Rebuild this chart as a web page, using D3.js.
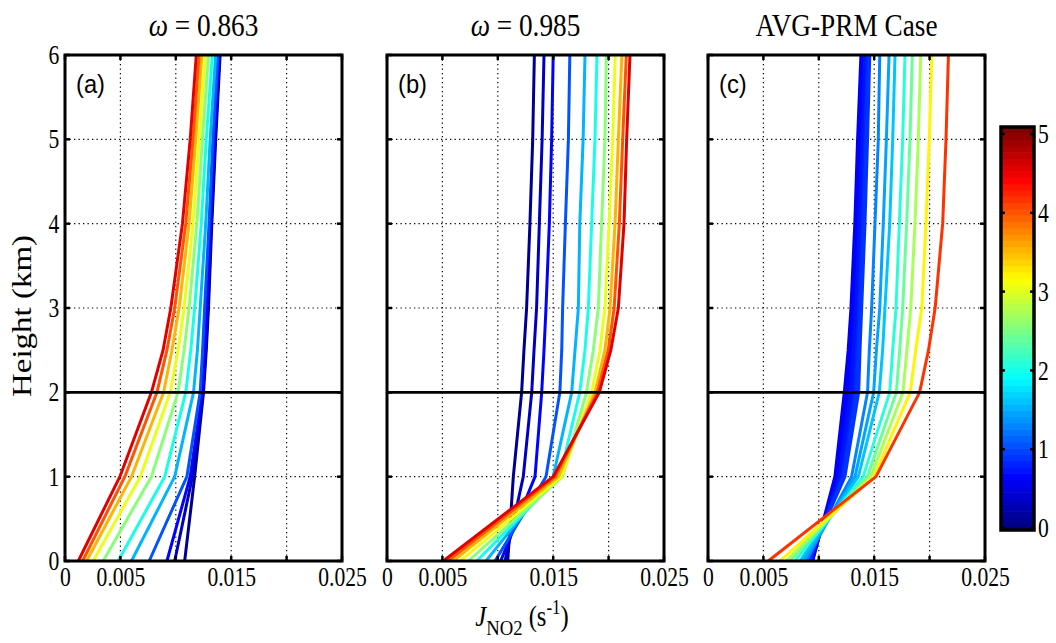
<!DOCTYPE html>
<html>
<head>
<meta charset="utf-8">
<script src="https://cdn.jsdelivr.net/npm/d3@7"></script>
<style>
  body { margin: 0; background: #fff; }
  svg { display: block; }
</style>
</head>
<body>
<div id="chart"></div>
<script>
// heights (km) at which each profile is sampled
const heights = [0, 1, 2, 2.5, 3, 4, 5, 6];

// J_NO2 values below are in units of 1e-3 s^-1, one row per profile

// (a) omega = 0.863
const aodA = [0.05, 0.3, 0.6, 1.0, 1.5, 2.0, 2.5, 3.0, 3.5, 4.0, 4.5];
const jA = [
  [10.8, 11.7, 12.5, 12.75, 12.95, 13.25, 13.6, 14.0],
  [9.9, 11.5, 12.45, 12.7, 12.9, 13.2, 13.55, 13.95],
  [9.2, 11.3, 12.4, 12.62, 12.8, 13.15, 13.5, 13.9],
  [7.6, 11.0, 12.2, 12.42, 12.6, 13.0, 13.35, 13.8],
  [6.0, 9.9, 11.6, 11.95, 12.2, 12.7, 13.1, 13.6],
  [4.8, 9.0, 10.9, 11.35, 11.7, 12.3, 12.75, 13.3],
  [3.45, 7.8, 10.2, 10.75, 11.2, 11.9, 12.4, 12.95],
  [2.55, 6.8, 9.5, 10.2, 10.75, 11.55, 12.1, 12.65],
  [1.95, 6.0, 8.9, 9.65, 10.3, 11.2, 11.8, 12.35],
  [1.59, 5.4, 8.3, 9.2, 9.9, 10.9, 11.55, 12.1],
  [1.2, 4.95, 7.8, 8.85, 9.55, 10.6, 11.3, 11.85]
];

// (b) omega = 0.985
const aodB = [0.05, 0.3, 0.6, 1.0, 1.5, 2.0, 2.5, 3.0, 3.5, 4.0, 4.5];
const jB = [
  [10.9, 11.4, 12.15, 12.36, 12.6, 12.9, 13.15, 13.3],
  [10.65, 12.3, 13.06, 13.27, 13.5, 13.75, 14.0, 14.17],
  [10.26, 13.36, 13.96, 14.17, 14.35, 14.65, 14.86, 15.0],
  [9.75, 14.35, 15.6, 15.77, 15.85, 16.1, 16.37, 16.5],
  [8.93, 15.0, 16.67, 16.97, 17.27, 17.4, 17.7, 17.87],
  [8.1, 15.6, 17.4, 17.87, 18.17, 18.47, 18.77, 18.95],
  [7.34, 15.85, 18.0, 18.62, 19.07, 19.37, 19.67, 19.8],
  [6.6, 15.76, 18.47, 19.22, 19.67, 20.04, 20.37, 20.6],
  [5.98, 15.46, 18.77, 19.67, 20.13, 20.58, 20.88, 21.2],
  [5.5, 15.2, 18.98, 19.97, 20.5, 20.97, 21.27, 21.6],
  [5.08, 15.0, 19.16, 20.2, 20.88, 21.39, 21.63, 21.93]
];

// (c) AVG-PRM case
const aodC = [0.55, 0.6, 0.65, 0.7, 0.75, 0.8, 0.85, 0.9, 1.25, 1.4, 1.6, 2.1, 2.4, 2.7, 3.2, 4.1];
const jC = [
  [9.45, 11.45, 12.3, 12.65, 12.9, 13.25, 13.5, 13.8],
  [9.4, 11.6, 12.5, 12.8, 13.05, 13.4, 13.65, 13.92],
  [9.33, 11.72, 12.68, 12.95, 13.18, 13.52, 13.78, 14.03],
  [9.27, 11.85, 12.85, 13.1, 13.32, 13.65, 13.9, 14.15],
  [9.2, 11.97, 13.02, 13.25, 13.46, 13.78, 14.02, 14.27],
  [9.13, 12.1, 13.2, 13.4, 13.6, 13.9, 14.14, 14.38],
  [9.07, 12.22, 13.4, 13.56, 13.74, 14.03, 14.27, 14.5],
  [9.0, 12.36, 13.6, 13.72, 13.87, 14.17, 14.4, 14.6],
  [8.85, 12.96, 14.4, 14.56, 14.77, 15.07, 15.37, 15.5],
  [8.6, 13.27, 14.95, 15.2, 15.5, 15.82, 16.1, 16.34],
  [8.3, 13.57, 15.46, 15.76, 15.97, 16.4, 16.67, 16.88],
  [7.85, 14.0, 16.4, 16.67, 16.97, 17.27, 17.57, 17.78],
  [7.4, 14.38, 17.0, 17.3, 17.57, 17.93, 18.23, 18.44],
  [7.04, 14.68, 17.6, 17.95, 18.3, 18.68, 18.98, 19.2],
  [6.5, 14.98, 18.25, 18.75, 19.3, 19.67, 19.97, 20.2],
  [5.44, 15.16, 19.1, 19.9, 20.5, 21.18, 21.48, 21.7]
];

const panelOmega = ["0.863", "0.985", null];
const panelTitleText = [null, null, "AVG-PRM Case"];
const panelTags = ["(a)", "(b)", "(c)"];

const xTicks = [0, 0.005, 0.01, 0.015, 0.02, 0.025];
const xTickLabels = [0, 0.005, 0.015, 0.025];
const yTicks = [0, 1, 2, 3, 4, 5, 6];
const cbTicks = [0, 1, 2, 3, 4, 5];
const blLine = 2; // boundary layer height drawn as solid line

const W = 1056, H = 643;
const serif = "'Liberation Serif', 'Times New Roman', serif";
const sans = "'Liberation Sans', Arial, sans-serif";
const sx = 0.8; // text in the figure is squeezed horizontally

const svg = d3.select("#chart").append("svg")
    .attr("width", W)
    .attr("height", H);

const panelLeft = [65, 387, 708];
const pw = 277;
const y = d3.scaleLinear().domain([0, 6]).range([561, 55]);

// matlab jet, 64 levels
function jet(v) {
    let t = Math.max(0, Math.min(1, v / 5));
    t = Math.round(t * 63) / 63;
    const c = f => Math.round(255 * Math.max(0, Math.min(1, 1.5 - Math.abs(4 * t - f))));
    return `rgb(${c(3)},${c(2)},${c(1)})`;
}

const allData = [
    { aod: aodA, j: jA },
    { aod: aodB, j: jB },
    { aod: aodC, j: jC }
];

allData.forEach(function (panel, p) {
    const g = svg.append("g").attr("transform", `translate(${panelLeft[p]},0)`);
    const x = d3.scaleLinear().domain([0, 0.025]).range([0, pw]);

    // dotted grid
    g.append("g").selectAll("line").data(xTicks.slice(1, -1)).join("line")
        .attr("x1", d => x(d)).attr("x2", d => x(d))
        .attr("y1", y(6)).attr("y2", y(0))
        .attr("stroke", "#000").attr("stroke-width", 1.2)
        .attr("stroke-dasharray", "1.3,3.2");
    g.append("g").selectAll("line").data(yTicks.slice(1, -1)).join("line")
        .attr("x1", 0).attr("x2", pw)
        .attr("y1", d => y(d)).attr("y2", d => y(d))
        .attr("stroke", "#000").attr("stroke-width", 1.2)
        .attr("stroke-dasharray", "1.3,3.2");

    // profiles
    const line = d3.line()
        .x(d => x(d / 1000))
        .y((d, i) => y(heights[i]));
    g.append("g").selectAll("path").data(panel.j).join("path")
        .attr("d", line)
        .attr("fill", "none")
        .attr("stroke", (d, i) => jet(panel.aod[i]))
        .attr("stroke-width", 3)
        .attr("stroke-linejoin", "round");

    // boundary layer line
    g.append("line")
        .attr("x1", 0).attr("x2", pw)
        .attr("y1", y(blLine)).attr("y2", y(blLine))
        .attr("stroke", "#000").attr("stroke-width", 2.6);

    // ticks (inward, all four sides)
    const tk = g.append("g").attr("stroke", "#000").attr("stroke-width", 2.5);
    xTicks.forEach(function (d) {
        tk.append("line").attr("x1", x(d)).attr("x2", x(d)).attr("y1", y(0)).attr("y2", y(0) - 5);
        tk.append("line").attr("x1", x(d)).attr("x2", x(d)).attr("y1", y(6)).attr("y2", y(6) + 5);
    });
    yTicks.forEach(function (d) {
        tk.append("line").attr("x1", 0).attr("x2", 5).attr("y1", y(d)).attr("y2", y(d));
        tk.append("line").attr("x1", pw).attr("x2", pw - 5).attr("y1", y(d)).attr("y2", y(d));
    });

    // frame
    g.append("rect")
        .attr("x", 0).attr("y", y(6))
        .attr("width", pw).attr("height", y(0) - y(6))
        .attr("fill", "none").attr("stroke", "#000").attr("stroke-width", 3);

    // x tick labels
    const xa = g.append("g")
        .attr("transform", `translate(0,${y(0)})`)
        .call(d3.axisBottom(x).tickValues(xTickLabels).tickSize(0).tickPadding(6).tickFormat(d => String(d)));
    xa.select(".domain").remove();
    xa.selectAll("text")
        .attr("font-family", serif).attr("font-size", 27).attr("fill", "#000")
        .attr("transform", `scale(${sx},1)`);

    // y tick labels on first panel only
    if (p === 0) {
        const ya = g.append("g")
            .call(d3.axisLeft(y).tickValues(yTicks).tickSize(0).tickPadding(7).tickFormat(d3.format("d")));
        ya.select(".domain").remove();
        ya.selectAll("text")
            .attr("font-family", serif).attr("font-size", 27).attr("fill", "#000")
            .attr("transform", `scale(${sx},1)`);
    }

    // panel tag
    g.append("text")
        .attr("transform", `translate(11,93) scale(0.95,1)`)
        .attr("font-family", sans).attr("font-size", 25)
        .text(panelTags[p]);

    // title
    const t = g.append("text")
        .attr("transform", `translate(${pw / 2},36) scale(0.88,1)`)
        .attr("text-anchor", "middle")
        .attr("font-family", serif).attr("font-size", 31);
    if (panelOmega[p]) {
        t.append("tspan").attr("font-style", "italic").text("\u03c9");
        t.append("tspan").text(" = " + panelOmega[p]);
    } else {
        t.text(panelTitleText[p]);
    }
});

// y axis title
svg.append("text")
    .attr("transform", `translate(31,${(y(0) + y(6)) / 2 + 8}) rotate(-90) scale(1,${sx})`)
    .attr("text-anchor", "middle")
    .attr("font-family", serif).attr("font-size", 33)
    .text("Height (km)");

// x axis title: J_NO2 (s^-1)
const xt = svg.append("text")
    .attr("transform", `translate(522,626) scale(0.85,1)`)
    .attr("text-anchor", "middle")
    .attr("font-family", serif).attr("font-size", 29);
xt.append("tspan").attr("font-style", "italic").text("J");
xt.append("tspan").attr("font-size", 22).attr("dy", 9).text("NO2");
xt.append("tspan").attr("dy", -9).text(" (s");
xt.append("tspan").attr("font-size", 20).attr("dy", -12).text("-1");
xt.append("tspan").attr("dy", 12).text(")");

// colorbar
const cb = d3.scaleLinear().domain([0, 5]).range([528, 134]);
const cbX = 1001, cbW = 33, cbTop = 127, cbBottom = 530;
const nLev = 64;
const levels = d3.range(nLev);
const levH = (cbBottom - cbTop) / nLev;
svg.append("g").selectAll("rect").data(levels).join("rect")
    .attr("x", cbX)
    .attr("y", i => cbBottom - (i + 1) * levH)
    .attr("width", cbW)
    .attr("height", levH + 0.6)
    .attr("fill", i => jet(i / (nLev - 1) * 5));
const cbt = svg.append("g").attr("stroke", "#000").attr("stroke-width", 2.5);
cbTicks.forEach(function (d) {
    cbt.append("line").attr("x1", cbX).attr("x2", cbX + 4).attr("y1", cb(d)).attr("y2", cb(d));
    cbt.append("line").attr("x1", cbX + cbW).attr("x2", cbX + cbW - 4).attr("y1", cb(d)).attr("y2", cb(d));
});
svg.append("rect")
    .attr("x", cbX).attr("y", cbTop)
    .attr("width", cbW).attr("height", cbBottom - cbTop)
    .attr("fill", "none").attr("stroke", "#000").attr("stroke-width", 3.5);
const cba = svg.append("g")
    .attr("transform", `translate(${cbX + cbW},0)`)
    .call(d3.axisRight(cb).tickValues(cbTicks).tickSize(0).tickPadding(5).tickFormat(d3.format("d")));
cba.select(".domain").remove();
cba.selectAll("text")
    .attr("font-family", serif).attr("font-size", 27).attr("fill", "#000")
    .attr("transform", `scale(${sx},1)`);
</script>
</body>
</html>
